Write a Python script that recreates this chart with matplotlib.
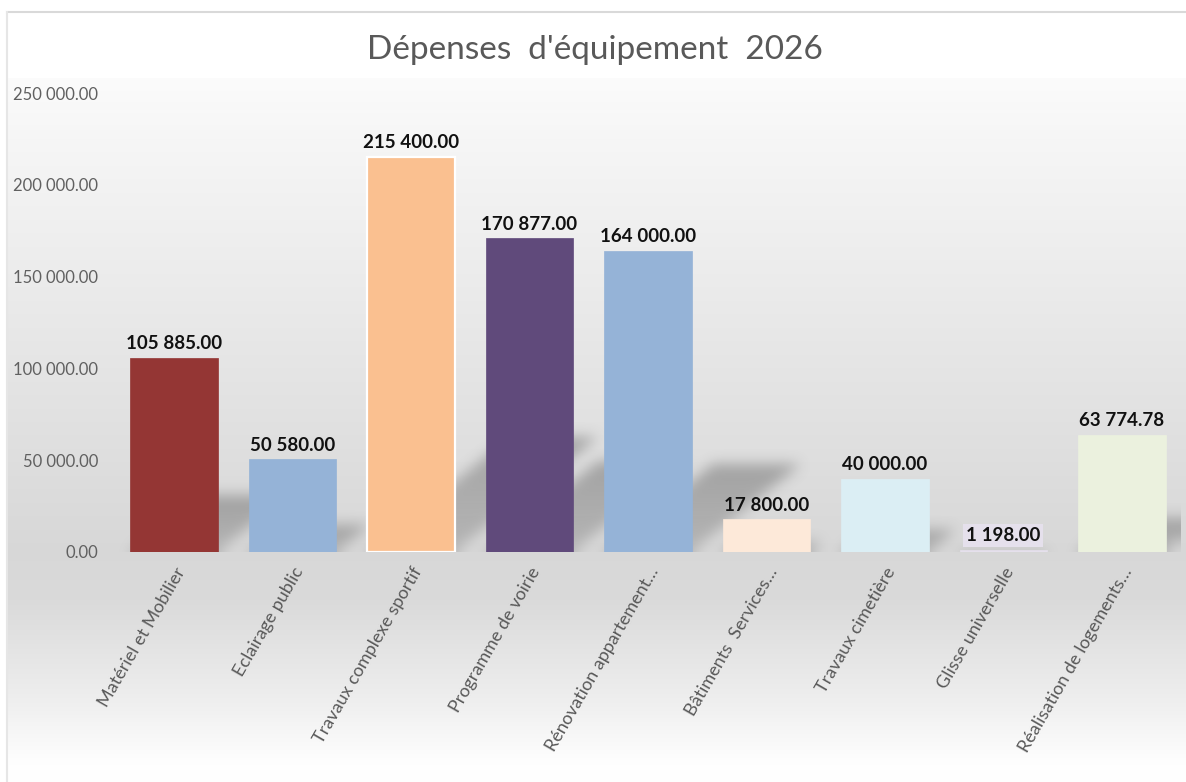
import numpy as np
import matplotlib
matplotlib.use("Agg")
import matplotlib.pyplot as plt

categories = ["Matériel et Mobilier", "Eclairage public", "Travaux complexe sportif",
              "Programme de voirie", "Rénovation appartement…", "Bâtiments  Services…",
              "Travaux cimetière", "Glisse universelle", "Réalisation de logements…"]
values = [105885.00, 50580.00, 215400.00, 170877.00, 164000.00, 17800.00, 40000.00, 1198.00, 63774.78]
colors = ["#943634", "#95B3D7", "#FAC090", "#604A7B", "#95B3D7", "#FDE9D9", "#DBEEF4", "#E5E0EC", "#EBF1DE"]
yticks = [0, 50000, 100000, 150000, 200000, 250000]
title = "Dépenses  d'équipement  2026"

FAM = ["Lato", "DejaVu Sans"]
plt.rcParams['font.family'] = FAM

W, H = 1186, 782
fig = plt.figure(figsize=(W / 100, H / 100), dpi=100)

# background gradient
bg = fig.add_axes([0, 0, 1, 1], zorder=-10)
rows = np.arange(H)
prof_y = [0, 77, 78, 120, 550, 600, 700, 760, 782]
prof_v = [1.0, 1.0, 0.985, 0.97, 0.845, 0.855, 0.935, 0.995, 1.0]
g = np.interp(rows, prof_y, prof_v)
img = np.repeat(g[:, None], W, axis=1)
img[:, :7] = 1.0
img[:12, :] = 1.0
bg.imshow(np.dstack([img, img, img]), aspect='auto', extent=[0, W, H, 0], interpolation='bilinear')
bg.plot([7, W], [12, 12], color="#d9d9d9", lw=1.5)
bg.plot([7, 7], [12, H], color="#e6e6e6", lw=1.5)
bg.set_xlim(0, W); bg.set_ylim(H, 0)
bg.axis('off')

ax = fig.add_axes([115 / W, 230 / H, (1181 - 115) / W, (689 - 230) / H])
ax.set_facecolor('none')
n = len(values)
x = np.arange(n)
bw = 0.74
ax.set_xlim(-0.5, n - 0.5)
ax.set_ylim(0, 250000)

# soft shadows
nx, ny = 1066, 459
gx = np.linspace(-0.5, n - 0.5, nx)
gy = np.linspace(0, 250000, ny)
XX, YY = np.meshgrid(gx, gy)
mask = np.zeros_like(XX)
for i, v in enumerate(values):
    hs = 0.29 * v
    dx = 1.4 * v / 250000
    if hs <= 0:
        continue
    t = np.clip(YY / hs, 0, 1)
    s = t * dx
    inside = (YY <= hs) & (XX >= i - bw / 2 + s) & (XX <= i + bw / 2 + s)
    mask = np.maximum(mask, inside * (0.6 + 0.4 * t))

def box(a, r, axis):
    c = np.cumsum(np.pad(a, [(r + 1, r) if k == axis else (0, 0) for k in range(2)], mode='edge'), axis=axis)
    if axis == 0:
        return (c[2 * r + 1:] - c[:-2 * r - 1]) / (2 * r + 1)
    return (c[:, 2 * r + 1:] - c[:, :-2 * r - 1]) / (2 * r + 1)

for _ in range(3):
    mask = box(mask, 6, 0)
    mask = box(mask, 6, 1)
alpha = np.clip(mask * 0.45, 0, 1)
rgba = np.zeros((ny, nx, 4))
rgba[..., :3] = 0.35
rgba[..., 3] = alpha
ax.imshow(rgba, origin='lower', extent=[-0.5, n - 0.5, 0, 250000], aspect='auto', zorder=1, interpolation='bilinear')

edges = ["#943634", "#95B3D7", "white", "#604A7B", "#95B3D7", "#FDE9D9", "#DBEEF4", "#E5E0EC", "#EBF1DE"]
lws = [0.5, 0.5, 1.6, 0.5, 0.5, 0.5, 0.5, 0.5, 0.5]
ax.bar(x, values, width=bw, color=colors, edgecolor=edges, linewidth=lws, zorder=2)

def fmt(v):
    return f"{v:,.2f}".replace(",", "\u202f")

for i, v in enumerate(values):
    kw = {}
    if i == 7:
        kw['bbox'] = dict(boxstyle='square,pad=0.15', fc=colors[i], ec='none')
    ax.annotate(fmt(v), (i, v), xytext=(0, 4), textcoords='offset points', ha='center', va='bottom',
                fontsize=13.5, fontweight='bold', color='#111111', zorder=5, **kw)

ax.set_yticks(yticks)
ax.set_yticklabels([fmt(t) for t in yticks], fontsize=12, color='#606060')
ax.set_xticks(x)
ax.set_xticklabels(categories, rotation=60, ha='right', rotation_mode='anchor', fontsize=13, color='#595959')
ax.tick_params(axis='both', length=0)
ax.tick_params(axis='y', pad=12)
ax.tick_params(axis='x', pad=9)
for sp in ax.spines.values():
    sp.set_visible(False)

fig.text(595 / W, 1 - 50 / H, title, ha='center', va='center', fontsize=24, color='#595959')

fig.savefig("out.png", dpi=100)
